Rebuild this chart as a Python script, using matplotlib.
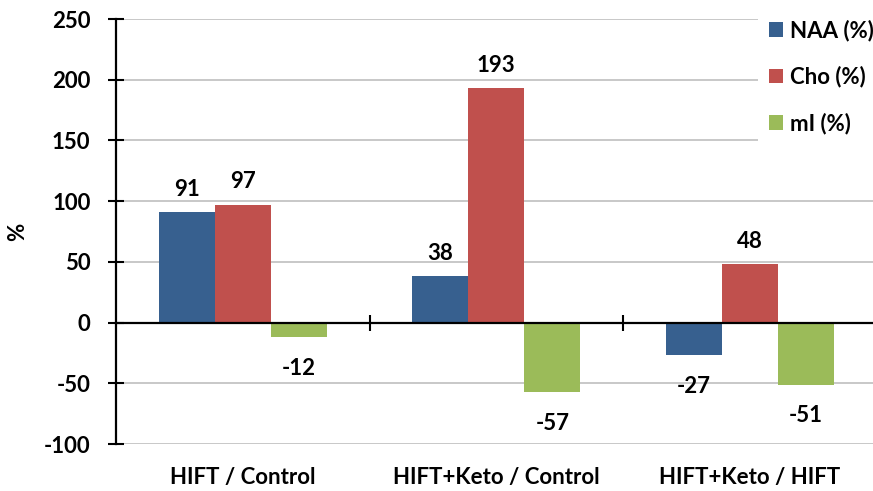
import numpy as np
import matplotlib.pyplot as plt
from matplotlib.patches import Patch
from matplotlib.transforms import blended_transform_factory

plt.rcParams['font.family'] = ['Lato', 'DejaVu Sans']
plt.rcParams['font.weight'] = 'bold'
plt.rcParams['axes.unicode_minus'] = False

groups = ['HIFT / Control', 'HIFT+Keto / Control', 'HIFT+Keto / HIFT']
series = ['NAA (%)', 'Cho (%)', 'mI (%)']
naa = [91, 38, -27]
cho = [97, 193, 48]
mi = [-12, -57, -51]
colors = ['#37608F', '#C0504D', '#9BBB59']

FS = 16

fig = plt.figure(figsize=(8.73, 4.91), dpi=100)
ax = fig.add_axes([0.133, 0.0957, 0.871, 0.8656])

x = np.arange(len(groups))
w = 0.221
for i, (vals, c) in enumerate(zip([naa, cho, mi], colors)):
    pos = x + (i - 1) * w
    ax.bar(pos, vals, width=w, color=c, zorder=3)
    for p, v in zip(pos, vals):
        off = 9 if v >= 0 else -15
        ax.annotate(f'{v}', (p, v), xytext=(0, off), textcoords='offset points',
                    ha='center', va='bottom' if v >= 0 else 'top',
                    fontsize=FS, fontweight='bold')

ax.set_xlim(-0.5, 2.5)
ax.set_ylim(-100, 250)
ax.set_yticks(np.arange(-100, 251, 50))
ax.yaxis.grid(True, color='#BFBFBF', lw=1.2, zorder=0)
ax.set_axisbelow(True)
ax.tick_params(axis='y', direction='inout', length=11, width=1.5, labelsize=FS, pad=13)
for lab in ax.get_yticklabels():
    lab.set_fontweight('bold')

# zero line doubles as the category axis
for s in ['top', 'right']:
    ax.spines[s].set_visible(False)
ax.spines['left'].set_linewidth(1.6)
ax.spines['bottom'].set_position(('data', 0))
ax.spines['bottom'].set_linewidth(1.6)
ax.spines['bottom'].set_zorder(4)
ax.set_xticks([0.5, 1.5])
ax.set_xticklabels([])
ax.tick_params(axis='x', direction='inout', length=11, width=1.5)

tr = blended_transform_factory(ax.transData, ax.transAxes)
for xi, g in zip(x, groups):
    ax.text(xi, -0.078, g, transform=tr, ha='center', va='center',
            fontsize=FS, fontweight='bold')

ax.set_ylabel('%', fontsize=FS, fontweight='bold', labelpad=11)

handles = [Patch(fc=c, ec='none', label=s) for c, s in zip(colors, series)]
fig.legend(handles=handles, loc='upper left', bbox_to_anchor=(0.868, 0.982),
           frameon=True, facecolor='white', edgecolor='none', framealpha=1,
           handlelength=0.65, handleheight=0.65, handletextpad=0.3,
           labelspacing=1.1, borderpad=0.5, borderaxespad=0,
           prop={'weight': 'bold', 'size': FS})

fig.savefig('out.png', dpi=100)
